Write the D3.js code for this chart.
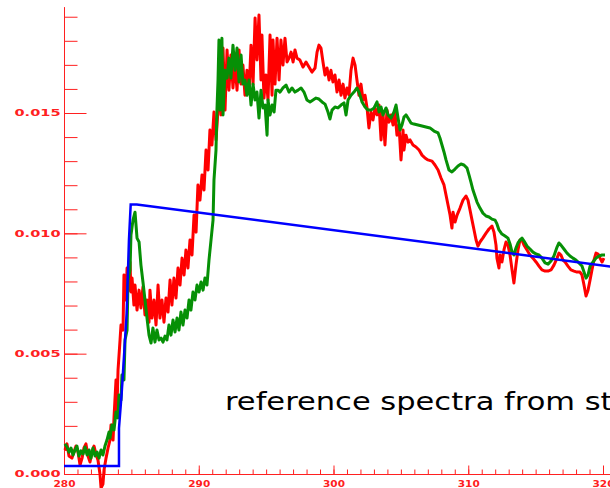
<html>
<head>
<script src="https://d3js.org/d3.v7.min.js"></script>
<style>
    body {
        margin: 0;
        background-color: #fff;
    }
</style>
</head>
<body>
    <svg width="610" height="488"></svg>
    <script type="text/javascript">
    // tick values for the two axes
    var xMajorTicks = [280, 290, 300, 310, 320];
    var xMinorTicks = d3.range(280, 324, 1);
    var yMajorTicks = [0, 0.005, 0.010, 0.015];
    var yMinorTicks = d3.range(0, 0.0195, 0.001);

    var caption = "reference spectra from standards";

    // [energy, intensity]
    var redSpectrum = [
        [280.07,0.00100],[280.22,0.00125],[280.37,0.00075],[280.59,0.00066],[280.74,0.00091],[280.89,0.00116],
        [281.04,0.00091],[281.19,0.00037],[281.34,0.00066],[281.48,0.00108],[281.63,0.00125],[281.78,0.00075],
        [281.93,0.00050],[282.08,0.00091],[282.23,0.00116],[282.37,0.00083],[282.52,0.00058],[282.67,0.00000],
        [282.75,-0.00058],[282.89,-0.00042],[282.97,0.00017],[283.12,0.00066],[283.27,0.00108],[283.41,0.00141],
        [283.49,0.00204],[283.64,0.00141],[283.71,0.00233],[283.86,0.00391],[283.93,0.00266],[284.01,0.00432],
        [284.16,0.00557],[284.23,0.00619],[284.38,0.00598],[284.45,0.00827],[284.60,0.00723],[284.68,0.00856],
        [284.82,0.00764],[284.90,0.00881],[284.97,0.00756],[285.05,0.00814],[285.19,0.00702],[285.27,0.00785],
        [285.42,0.00681],[285.57,0.00764],[285.71,0.00690],[285.86,0.00777],[286.01,0.00661],[286.16,0.00723],
        [286.31,0.00631],[286.38,0.00764],[286.53,0.00648],[286.68,0.00723],[286.83,0.00619],[286.98,0.00785],
        [287.12,0.00648],[287.27,0.00723],[287.42,0.00631],[287.57,0.00731],[287.72,0.00673],[287.87,0.00806],
        [288.01,0.00702],[288.16,0.00814],[288.31,0.00731],[288.46,0.00856],[288.61,0.00785],[288.76,0.00897],
        [288.91,0.00827],[289.05,0.00931],[289.20,0.00856],[289.35,0.00972],[289.50,0.00910],[289.65,0.01076],
        [289.80,0.01005],[289.94,0.01201],[290.09,0.01138],[290.24,0.01242],[290.39,0.01180],[290.54,0.01346],
        [290.69,0.01263],[290.83,0.01429],[290.98,0.01367],[291.13,0.01504],[291.28,0.01388],[291.43,0.01512],
        [291.58,0.01720],[291.65,0.01492],[291.80,0.01770],[291.95,0.01512],[292.10,0.01762],[292.24,0.01595],
        [292.39,0.01741],[292.54,0.01604],[292.69,0.01712],[292.84,0.01595],[292.99,0.01762],[293.14,0.01620],
        [293.28,0.01699],[293.43,0.01574],[293.58,0.01678],[293.73,0.01587],[293.88,0.01782],[294.03,0.01620],
        [294.18,0.01895],[294.32,0.01720],[294.47,0.01907],[294.62,0.01637],[294.69,0.01824],[294.84,0.01562],
        [294.99,0.01658],[295.14,0.01554],[295.29,0.01824],[295.44,0.01574],[295.51,0.01803],[295.66,0.01620],
        [295.81,0.01811],[295.96,0.01637],[296.10,0.01803],[296.25,0.01699],[296.40,0.01811],[296.55,0.01712],
        [296.70,0.01728],[296.85,0.01753],[297.00,0.01712],[297.14,0.01762],[297.29,0.01728],[297.51,0.01720],
        [297.74,0.01691],[297.96,0.01712],[298.18,0.01691],[298.40,0.01670],[298.63,0.01687],[298.78,0.01753],
        [298.92,0.01782],[299.07,0.01770],[299.22,0.01712],[299.37,0.01658],[299.52,0.01687],[299.67,0.01637],
        [299.81,0.01678],[299.96,0.01629],[300.11,0.01658],[300.26,0.01587],[300.41,0.01637],[300.56,0.01574],
        [300.71,0.01620],[300.85,0.01562],[301.00,0.01604],[301.15,0.01574],[301.30,0.01678],[301.45,0.01728],
        [301.60,0.01699],[301.74,0.01637],[301.89,0.01574],[302.04,0.01620],[302.19,0.01554],[302.34,0.01574],
        [302.49,0.01521],[302.63,0.01438],[302.78,0.01504],[302.93,0.01471],[303.08,0.01521],[303.23,0.01492],
        [303.38,0.01533],[303.53,0.01388],[303.67,0.01504],[303.82,0.01367],[303.97,0.01512],[304.12,0.01462],
        [304.27,0.01492],[304.42,0.01450],[304.56,0.01504],[304.71,0.01408],[304.86,0.01450],[305.01,0.01305],
        [305.16,0.01429],[305.23,0.01346],[305.38,0.01408],[305.53,0.01379],[305.68,0.01388],[305.90,0.01367],
        [306.12,0.01359],[306.35,0.01346],[306.57,0.01325],[306.79,0.01313],[307.01,0.01305],[307.31,0.01300],
        [307.53,0.01284],[307.76,0.01263],[307.98,0.01230],[308.20,0.01201],[308.35,0.01159],[308.50,0.01118],
        [308.65,0.01076],[308.79,0.01022],[308.87,0.01088],[309.02,0.01047],[309.17,0.01076],[309.39,0.01105],
        [309.61,0.01138],[309.83,0.01155],[309.98,0.01138],[310.13,0.01097],[310.28,0.01055],[310.43,0.01014],
        [310.58,0.00972],[310.72,0.00947],[310.87,0.00964],[311.09,0.00981],[311.32,0.01001],[311.54,0.01018],
        [311.76,0.01030],[311.91,0.01005],[312.06,0.00951],[312.13,0.00897],[312.28,0.00856],[312.36,0.00910],
        [312.50,0.00881],[312.65,0.00931],[312.80,0.00964],[312.95,0.00951],[313.10,0.00910],[313.25,0.00848],
        [313.39,0.00794],[313.54,0.00868],[313.69,0.00931],[313.84,0.00972],[313.99,0.00972],[314.14,0.00951],
        [314.36,0.00931],[314.58,0.00910],[314.80,0.00897],[315.03,0.00881],[315.25,0.00864],[315.47,0.00848],
        [315.70,0.00843],[315.92,0.00843],[316.14,0.00848],[316.36,0.00868],[316.59,0.00897],[316.73,0.00918],
        [316.88,0.00910],[317.03,0.00889],[317.18,0.00881],[317.40,0.00864],[317.62,0.00848],[317.85,0.00843],
        [318.07,0.00839],[318.29,0.00839],[318.44,0.00827],[318.59,0.00785],[318.74,0.00740],[318.89,0.00764],
        [319.04,0.00806],[319.18,0.00848],[319.33,0.00889],[319.48,0.00918],[319.63,0.00914],[319.78,0.00897],
        [319.93,0.00881],[320.07,0.00897]
    ];

    var greenSpectrum = [
        [280.07,0.00125],[280.22,0.00112],[280.37,0.00091],[280.52,0.00108],[280.67,0.00079],[280.82,0.00100],
        [280.96,0.00116],[281.11,0.00075],[281.26,0.00096],[281.41,0.00083],[281.56,0.00112],[281.71,0.00079],
        [281.86,0.00100],[282.00,0.00066],[282.15,0.00108],[282.30,0.00075],[282.45,0.00091],[282.60,0.00066],
        [282.75,0.00100],[282.89,0.00079],[283.04,0.00116],[283.19,0.00141],[283.34,0.00174],[283.41,0.00150],
        [283.56,0.00204],[283.71,0.00183],[283.86,0.00258],[284.01,0.00233],[284.08,0.00328],[284.23,0.00307],
        [284.30,0.00411],[284.45,0.00391],[284.53,0.00557],[284.68,0.00598],[284.75,0.00806],[284.90,0.00848],
        [284.97,0.00993],[285.12,0.01055],[285.27,0.01088],[285.42,0.00980],[285.57,0.00964],[285.71,0.00868],
        [285.86,0.00798],[286.01,0.00723],[286.16,0.00648],[286.31,0.00577],[286.46,0.00544],[286.60,0.00607],
        [286.75,0.00548],[286.90,0.00598],[287.05,0.00557],[287.20,0.00565],[287.35,0.00548],[287.50,0.00573],
        [287.64,0.00557],[287.79,0.00619],[287.94,0.00577],[288.09,0.00640],[288.24,0.00590],[288.39,0.00648],
        [288.53,0.00598],[288.68,0.00673],[288.83,0.00619],[288.98,0.00681],[289.13,0.00648],[289.28,0.00723],
        [289.42,0.00681],[289.57,0.00756],[289.72,0.00723],[289.87,0.00785],[290.02,0.00756],[290.17,0.00798],
        [290.32,0.00764],[290.46,0.00814],[290.61,0.00785],[290.76,0.00889],[290.91,0.00972],[291.06,0.01055],
        [291.13,0.01221],[291.28,0.01346],[291.35,0.01512],[291.43,0.01637],[291.50,0.01803],[291.58,0.01512],
        [291.72,0.01811],[291.80,0.01492],[291.95,0.01678],[292.10,0.01645],[292.24,0.01728],[292.39,0.01645],
        [292.54,0.01782],[292.69,0.01678],[292.84,0.01770],[292.99,0.01629],[293.14,0.01741],[293.28,0.01620],
        [293.43,0.01637],[293.58,0.01574],[293.73,0.01637],[293.88,0.01533],[294.03,0.01620],[294.18,0.01554],
        [294.32,0.01587],[294.47,0.01479],[294.62,0.01595],[294.77,0.01521],[294.92,0.01533],[295.07,0.01408],
        [295.14,0.01554],[295.29,0.01492],[295.44,0.01533],[295.59,0.01504],[295.73,0.01595],[295.88,0.01595],
        [296.03,0.01587],[296.25,0.01604],[296.48,0.01616],[296.70,0.01587],[296.92,0.01604],[297.14,0.01587],
        [297.37,0.01595],[297.59,0.01604],[297.81,0.01587],[298.03,0.01554],[298.26,0.01546],[298.48,0.01554],
        [298.70,0.01562],[298.92,0.01558],[299.15,0.01546],[299.37,0.01537],[299.59,0.01504],[299.74,0.01475],
        [299.89,0.01512],[300.11,0.01525],[300.33,0.01521],[300.56,0.01533],[300.78,0.01542],[300.93,0.01492],
        [301.08,0.01554],[301.30,0.01574],[301.52,0.01587],[301.74,0.01604],[301.89,0.01587],[302.12,0.01546],
        [302.34,0.01525],[302.56,0.01512],[302.78,0.01512],[303.01,0.01521],[303.23,0.01546],[303.38,0.01504],
        [303.53,0.01525],[303.67,0.01492],[303.90,0.01521],[304.05,0.01492],[304.27,0.01479],[304.49,0.01504],
        [304.64,0.01533],[304.79,0.01479],[304.94,0.01429],[305.08,0.01450],[305.23,0.01483],[305.38,0.01492],
        [305.53,0.01479],[305.75,0.01458],[305.97,0.01454],[306.27,0.01450],[306.57,0.01446],[306.86,0.01442],
        [307.16,0.01438],[307.46,0.01425],[307.76,0.01417],[307.90,0.01396],[308.05,0.01367],[308.20,0.01338],
        [308.35,0.01305],[308.57,0.01263],[308.79,0.01255],[309.02,0.01267],[309.24,0.01280],[309.46,0.01288],
        [309.68,0.01284],[309.91,0.01271],[310.06,0.01242],[310.20,0.01213],[310.35,0.01180],[310.50,0.01155],
        [310.65,0.01130],[310.87,0.01105],[311.09,0.01084],[311.32,0.01072],[311.54,0.01068],[311.76,0.01059],
        [311.99,0.01055],[312.13,0.01039],[312.28,0.01014],[312.50,0.00997],[312.73,0.00989],[312.95,0.00980],
        [313.10,0.00956],[313.25,0.00922],[313.39,0.00910],[313.54,0.00939],[313.69,0.00960],[313.84,0.00972],
        [313.99,0.00980],[314.14,0.00968],[314.36,0.00947],[314.58,0.00935],[314.80,0.00922],[315.03,0.00914],
        [315.25,0.00910],[315.47,0.00897],[315.70,0.00877],[315.92,0.00872],[316.14,0.00885],[316.36,0.00906],
        [316.59,0.00943],[316.73,0.00960],[316.88,0.00951],[317.10,0.00935],[317.33,0.00918],[317.55,0.00906],
        [317.77,0.00897],[317.99,0.00889],[318.22,0.00877],[318.44,0.00864],[318.59,0.00839],[318.74,0.00814],
        [318.89,0.00827],[319.04,0.00864],[319.26,0.00881],[319.48,0.00897],[319.70,0.00906],[319.93,0.00910],
        [320.15,0.00910]
    ];

    var blueModel = [
        [280.00,0.00033],[284.08,0.00033],[284.08,0.00190],[284.28,0.00335],[284.65,0.00667],
        [284.82,0.00972],[284.95,0.01120],[285.40,0.01120],[320.60,0.00862]
    ];

    var svg = d3.select("svg");
    svg.append("rect").attr("width", 610).attr("height", 488).attr("fill", "#fff");

    var x = d3.scaleLinear().domain([280, 320]).range([64, 603]);
    var y = d3.scaleLinear().domain([0, 0.015]).range([474, 113]);

    var axisColor = "#ff2020";
    var labelFont = "bold 9px 'DejaVu Sans'";

    // y axis: ticks point into the plot, labels on the left
    var yMinor = svg.append("g").attr("transform", "translate(64.5,0)")
        .call(d3.axisLeft(y).tickValues(yMinorTicks).tickSizeInner(-13).tickSizeOuter(0).tickFormat(""));
    var yMajor = svg.append("g").attr("transform", "translate(64.5,0)")
        .call(d3.axisLeft(y).tickValues(yMajorTicks).tickSizeInner(-22).tickSizeOuter(0)
            .tickPadding(4).tickFormat(d3.format(".3f")));
    yMajor.selectAll("text")
        .attr("fill", axisColor)
        .style("font", labelFont)
        .attr("textLength", 46)
        .attr("lengthAdjust", "spacingAndGlyphs");

    // x axis
    var xMinor = svg.append("g").attr("transform", "translate(0,474.5)")
        .call(d3.axisBottom(x).tickValues(xMinorTicks).tickSizeInner(-5).tickSizeOuter(0).tickFormat(""));
    var xMajor = svg.append("g").attr("transform", "translate(0,474.5)")
        .call(d3.axisBottom(x).tickValues(xMajorTicks).tickSizeInner(-9).tickSizeOuter(0).tickPadding(6));
    xMajor.selectAll("text")
        .attr("fill", axisColor)
        .style("font", labelFont)
        .attr("textLength", 22)
        .attr("lengthAdjust", "spacingAndGlyphs");

    [yMinor, yMajor, xMinor, xMajor].forEach(function(a) {
        a.select(".domain").remove();
        a.selectAll("line").attr("stroke", axisColor);
    });

    svg.append("line")
        .attr("x1", 64.5).attr("x2", 64.5)
        .attr("y1", y(0) + 0.5).attr("y2", y(0.0194))
        .attr("stroke", axisColor);
    svg.append("line")
        .attr("x1", 64.5).attr("x2", x(324))
        .attr("y1", y(0) + 0.5).attr("y2", y(0) + 0.5)
        .attr("stroke", axisColor);

    var line = d3.line()
        .x(function(d) { return x(d[0]); })
        .y(function(d) { return y(d[1]); });

    svg.append("path")
        .datum(redSpectrum)
        .attr("fill", "none")
        .attr("stroke", "#ff0000")
        .attr("stroke-width", 3)
        .attr("stroke-linejoin", "round")
        .attr("d", line);

    svg.append("path")
        .datum(greenSpectrum)
        .attr("fill", "none")
        .attr("stroke", "#069006")
        .attr("stroke-width", 3)
        .attr("stroke-linejoin", "round")
        .attr("d", line);

    svg.append("path")
        .datum(blueModel)
        .attr("fill", "none")
        .attr("stroke", "#0000ff")
        .attr("stroke-width", 2.5)
        .attr("d", line);

    // caption runs off the right edge, as on the slide; the wide comic
    // lettering is imitated by stretching a plain font so "from " ends near x=580
    var cap = svg.append("text")
        .attr("x", 225)
        .attr("y", 410)
        .attr("fill", "#000")
        .style("font", "24px 'Comic Sans MS', 'DejaVu Sans', sans-serif")
        .text("reference spectra from ");
    var head = cap.node().getComputedTextLength();
    cap.text(caption);
    var full = cap.node().getComputedTextLength();
    cap.attr("textLength", full * 350 / head)
        .attr("lengthAdjust", "spacingAndGlyphs");
    </script>
</body>
</html>
